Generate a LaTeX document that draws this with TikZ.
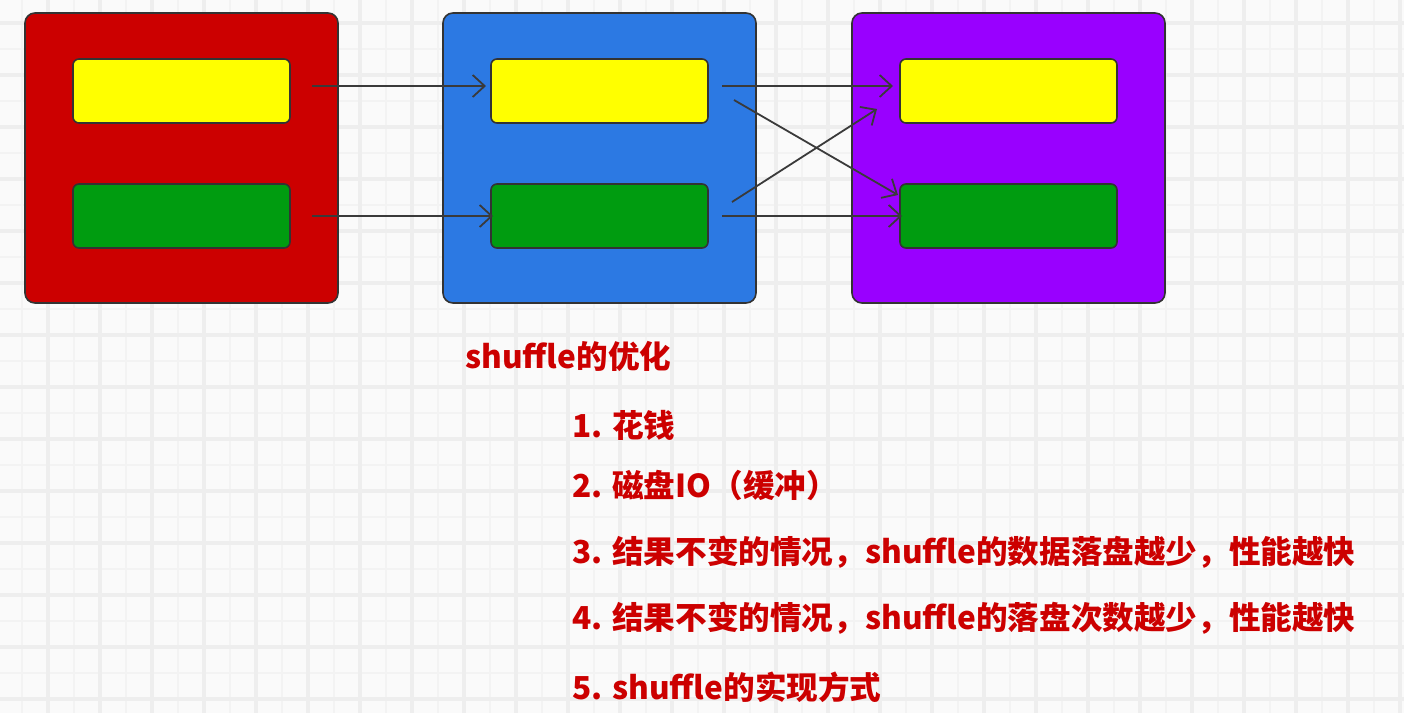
\documentclass[tikz,border=0pt]{standalone}
\usepackage{fontspec}
\newfontfamily\cjk{Noto Sans CJK SC}
\usetikzlibrary{arrows.meta,calc}
\definecolor{bgcol}{HTML}{FAFAFA}
\definecolor{gridthin}{HTML}{F3F3F3}
\definecolor{gridthick}{HTML}{EEEEEE}
\definecolor{boxred}{HTML}{CC0000}
\definecolor{boxblue}{HTML}{2C79E3}
\definecolor{boxpurple}{HTML}{9900FF}
\definecolor{boxyellow}{HTML}{FFFF00}
\definecolor{boxgreen}{HTML}{009C10}
\definecolor{bordergray}{HTML}{333333}
\definecolor{arrowgray}{HTML}{3A3A3A}
\definecolor{textred}{HTML}{CC0000}
\tikzset{
  outerbox/.style={draw=bordergray, line width=0.8pt, rounded corners=5pt,
    minimum width=156.5pt, minimum height=145pt, inner sep=0pt, outer sep=0pt},
  innerbox/.style={draw=bordergray, line width=0.8pt, rounded corners=3pt,
    minimum width=108.5pt, minimum height=32pt, inner sep=0pt, outer sep=0pt},
  conn/.style={draw=arrowgray, line width=0.9pt, -{Straight Barb[length=6pt,width=11pt]}},
  note/.style={anchor=west, inner sep=0pt, text=textred,
    font=\cjk\bfseries\fontsize{15.8}{19}\selectfont},
}
\begin{document}
\begin{tikzpicture}[x=0.5pt,y=-0.5pt]
\useasboundingbox (0,0) rectangle (1404,713);
\fill[bgcol] (0,0) rectangle (1404,713);
% grid
\foreach \x in {22,48,...,1404} \draw[gridthin, line width=1pt] (\x,0) -- (\x,713);
\foreach \y in {23,49,...,713} \draw[gridthin, line width=1pt] (0,\y) -- (1404,\y);
\foreach \x in {48,100,...,1404} \draw[gridthick, line width=1.6pt] (\x,0) -- (\x,713);
\foreach \y in {23,75,...,713} \draw[gridthick, line width=1.6pt] (0,\y) -- (1404,\y);

% outer boxes
\node[outerbox, fill=boxred]    (R) at (181.5,158) {};
\node[outerbox, fill=boxblue]   (B) at (599.5,158) {};
\node[outerbox, fill=boxpurple] (P) at (1008.5,158) {};
% inner boxes
\node[innerbox, fill=boxyellow] (r1) at (181.5,91) {};
\node[innerbox, fill=boxgreen]  (r2) at (181.5,216) {};
\node[innerbox, fill=boxyellow] (b1) at (599.5,91) {};
\node[innerbox, fill=boxgreen]  (b2) at (599.5,216) {};
\node[innerbox, fill=boxyellow] (p1) at (1008.5,91) {};
\node[innerbox, fill=boxgreen]  (p2) at (1008.5,216) {};

% connectors
\draw[conn] ($(r1.east)+(22,-5)$) -- ($(b1.west)+(-5,-5)$);
\draw[conn] ($(r2.east)+(22,0)$) -- ($(b2.west)+(2,0)$);
\draw[conn] ($(b1.east)+(14,-5)$) -- ($(p1.west)+(-7,-5)$);
\draw[conn] ($(b1.east)+(26,9)$) -- ($(p2.west)+(-2,-21)$);
\draw[conn] ($(b2.east)+(24,-14)$) -- ($(p1.west)+(-23,18)$);
\draw[conn] ($(b2.east)+(14,0)$) -- ($(p2.west)+(2,0)$);

% texts
\node[note] (t0) at (465,356) {shuffle的优化};
\node[note] (t1) at (572,425) {1. 花钱};
\node[note] (t2) at (572,485) {2. 磁盘IO（缓冲）};
\node[note] (t3) at (572,552) {3. 结果不变的情况，shuffle的数据落盘越少，性能越快};
\node[note] (t4) at (572,618) {4. 结果不变的情况，shuffle的落盘次数越少，性能越快};
\node[note] (t5) at (572,687) {5. shuffle的实现方式};
\end{tikzpicture}
\end{document}
